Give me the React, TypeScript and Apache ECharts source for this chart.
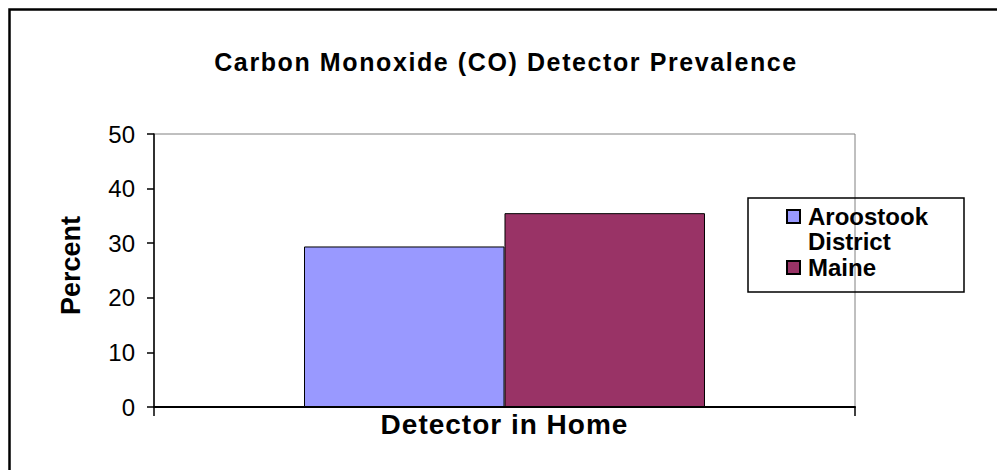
import React, { useEffect, useRef } from "react";
import * as echarts from "echarts";

const categories = ["Detector in Home"];
const seriesNames = ["Aroostook District", "Maine"];
const aroostookValues = [29.4];
const maineValues = [35.5];
const seriesColors = ["#9999FF", "#993366"];
const yTicks = { min: 0, max: 50, interval: 10 };
const titleText = "Carbon Monoxide (CO) Detector Prevalence";
const yAxisName = "Percent";

const FONT = "Arial, 'Liberation Sans', sans-serif";

export default function App() {
  const ref = useRef<HTMLDivElement>(null);
  useEffect(() => {
    document.body.style.margin = "0";
    const chart = echarts.init(ref.current!, null, { renderer: "svg" });
    const L1 = 25;
    const L2 = 23;
    chart.setOption({
      animation: false,
      backgroundColor: "#ffffff",
      title: {
        text: titleText,
        left: 506,
        textAlign: "center",
        top: 49,
        padding: 0,
        textStyle: { fontFamily: FONT, fontSize: 25, fontWeight: "bold", color: "#000" },
      },
      grid: {
        left: 154,
        right: 142,
        top: 134,
        bottom: 63,
        show: true,
        borderColor: "#808080",
        borderWidth: 1,
        backgroundColor: "transparent",
      },
      legend: [
        {
          data: [seriesNames[0]],
          left: 786,
          top: 216.5 - 1.5 * L1,
          padding: 0,
          icon: "rect",
          itemWidth: 13,
          itemHeight: 13,
          formatter: () => " \nAroostook\nDistrict",
          textStyle: {
            fontFamily: FONT,
            fontSize: 24,
            fontWeight: "bold",
            color: "#000",
            lineHeight: L1,
            padding: [0, 0, 0, 3],
          },
        },
        {
          data: [seriesNames[1]],
          left: 786,
          top: 267 - L2 / 2,
          padding: 0,
          icon: "rect",
          itemWidth: 13,
          itemHeight: 13,
          textStyle: {
            fontFamily: FONT,
            fontSize: 24,
            fontWeight: "bold",
            color: "#000",
            lineHeight: L2,
            padding: [0, 0, 0, 3],
          },
        },
      ],
      xAxis: {
        type: "category",
        data: categories,
        axisLine: { lineStyle: { color: "#000", width: 2 } },
        axisTick: { show: true, length: 9, lineStyle: { color: "#000", width: 1.5 } },
        axisLabel: {
          margin: 3,
          fontFamily: FONT,
          fontSize: 28,
          fontWeight: "bold",
          color: "#000",
        },
      },
      yAxis: {
        type: "value",
        min: yTicks.min,
        max: yTicks.max,
        interval: yTicks.interval,
        name: yAxisName,
        nameLocation: "middle",
        nameGap: 70,
        nameTextStyle: {
          fontFamily: FONT,
          fontSize: 27,
          fontWeight: "bold",
          color: "#000",
          padding: [0, 0, 0, 10],
        },
        splitLine: { show: false },
        axisLine: { show: true, lineStyle: { color: "#000", width: 1.5 } },
        axisTick: { show: true, length: 7, lineStyle: { color: "#000", width: 1.5 } },
        axisLabel: { margin: 19, fontFamily: FONT, fontSize: 24, color: "#000" },
      },
      series: [
        {
          name: seriesNames[0],
          type: "bar",
          data: aroostookValues,
          barGap: "0%",
          barCategoryGap: "42.8%",
          itemStyle: { color: seriesColors[0], borderColor: "#000", borderWidth: 1 },
        },
        {
          name: seriesNames[1],
          type: "bar",
          data: maineValues,
          barGap: "0%",
          barCategoryGap: "42.8%",
          itemStyle: { color: seriesColors[1], borderColor: "#000", borderWidth: 1 },
        },
      ],
      graphic: [
        {
          type: "rect",
          shape: { x: 9.5, y: 9.5, width: 1000, height: 480 },
          style: { fill: "none", stroke: "#000", lineWidth: 2.5 },
          silent: true,
        },
        {
          type: "rect",
          shape: { x: 748, y: 198, width: 216, height: 94 },
          style: { fill: "none", stroke: "#000", lineWidth: 1.5 },
          silent: true,
          z: 100,
        },
      ],
    });
    return () => chart.dispose();
  }, []);
  return (
    <>
      <style>{`
        .co-chart text[style*="25px"] { letter-spacing: 1.6px; }
        .co-chart text[style*="28px"] { letter-spacing: 1px; }
      `}</style>
      <div className="co-chart" ref={ref} style={{ width: 997, height: 470 }} />
    </>
  );
}
